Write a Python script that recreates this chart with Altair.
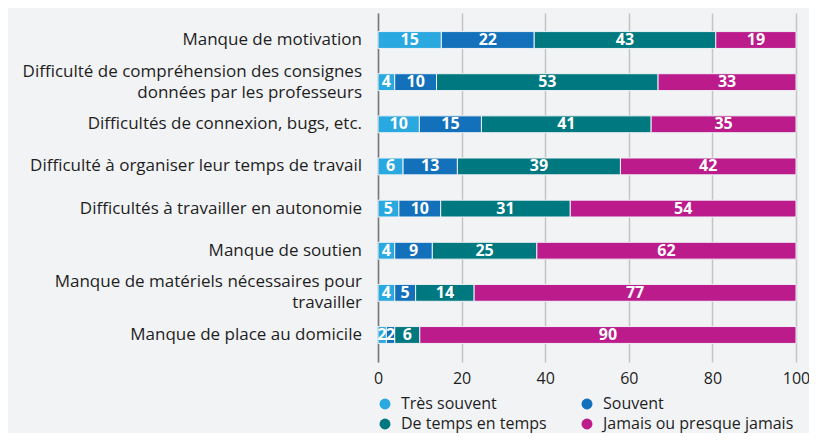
import altair as alt
import pandas as pd

categories = [
    "Manque de motivation",
    "Difficulté de compréhension des consignes|données par les professeurs",
    "Difficultés de connexion, bugs, etc.",
    "Difficulté à organiser leur temps de travail",
    "Difficultés à travailler en autonomie",
    "Manque de soutien",
    "Manque de matériels nécessaires pour|travailler",
    "Manque de place au domicile",
]
series = ["Très souvent", "Souvent", "De temps en temps", "Jamais ou presque jamais"]
tres_souvent = [15, 4, 10, 6, 5, 4, 4, 2]
souvent = [22, 10, 15, 13, 10, 9, 5, 2]
de_temps = [43, 53, 41, 39, 31, 25, 14, 6]
jamais = [19, 33, 35, 42, 54, 62, 77, 90]
colors = ["#2aa8e0", "#1271ba", "#00787f", "#bc1b8b"]
x_ticks = [0, 20, 40, 60, 80, 100]

values_by_series = [tres_souvent, souvent, de_temps, jamais]
rows = []
for si, s in enumerate(series):
    for ci, c in enumerate(categories):
        rows.append({"cat": c, "serie": s, "value": values_by_series[si][ci], "order": si})
df = pd.DataFrame(rows)

label_rows = []
for c in categories:
    parts = c.split("|")
    if len(parts) == 1:
        label_rows.append({"cat": c, "line": parts[0], "pos": "single"})
    else:
        label_rows.append({"cat": c, "line": parts[0], "pos": "top"})
        label_rows.append({"cat": c, "line": parts[1], "pos": "bottom"})
labels_df = pd.DataFrame(label_rows)

FONT = "Open Sans"
TXT = "#1e1e1e"

base = alt.Chart(df).transform_stack(
    stack="value",
    groupby=["cat"],
    as_=["x0", "x1"],
    sort=[alt.SortField("order", order="ascending")],
    offset="normalize",
).transform_calculate(xm="(datum.x0 + datum.x1) / 2")

y_enc = alt.Y(
    "cat:N",
    sort=categories,
    scale=alt.Scale(paddingInner=0.6, paddingOuter=0.441),
    axis=alt.Axis(
        title=None,
        labels=False,
        ticks=False,
        domainColor="#777777",
        domainWidth=1.5,
    ),
)

bars = base.mark_bar(stroke="#eef2f6", strokeWidth=1).encode(
    y=y_enc,
    x=alt.X(
        "x0:Q",
        scale=alt.Scale(domain=[0, 1], nice=False),
        axis=alt.Axis(
            title=None,
            values=[v / 100 for v in x_ticks],
            labelExpr="format(datum.value * 100, 'd')",
            grid=True,
            gridColor="#c4c4c4",
            gridWidth=1.5,
            domain=False,
            ticks=False,
            labelFlush=False,
            labelPadding=8,
            labelFont=FONT,
            labelFontSize=16,
            labelColor=TXT,
        ),
    ),
    x2="x1:Q",
    color=alt.Color(
        "serie:N",
        scale=alt.Scale(domain=series, range=colors),
        legend=alt.Legend(
            title=None,
            orient="none",
            direction="horizontal",
            legendX=-1,
            legendY=383,
            columns=2,
            columnPadding=32,
            rowPadding=4,
            symbolType="circle",
            symbolSize=120,
            symbolStrokeWidth=0,
            symbolOpacity=1,
            labelOffset=8,
            labelFont=FONT,
            labelFontSize=16,
            labelColor=TXT,
            labelLimit=300,
        ),
    ),
)

text = base.mark_text(color="white", fontWeight="bold", fontSize=16, font=FONT).encode(
    y=alt.Y("cat:N", sort=categories),
    x=alt.X("xm:Q"),
    text=alt.Text("value:Q"),
)


def label_layer(pos, dy):
    return (
        alt.Chart(labels_df)
        .transform_filter(alt.datum.pos == pos)
        .mark_text(align="right", baseline="middle", font=FONT, fontSize=17, color=TXT, dy=dy)
        .encode(
            y=alt.Y("cat:N", sort=categories),
            x=alt.value(-16),
            text="line:N",
        )
    )


chart = (
    alt.layer(bars, text, label_layer("single", 0), label_layer("top", -10.5), label_layer("bottom", 10.5))
    .properties(
        width=418,
        height=349,
        padding={"left": 370, "top": 5, "right": 13, "bottom": 71},
        autosize=alt.AutoSizeParams(type="none"),
    )
    .configure(background="#f2f3f5")
    .configure_view(stroke=None)
)

chart.save("out.html", embed_options={"renderer": "svg", "actions": False})
